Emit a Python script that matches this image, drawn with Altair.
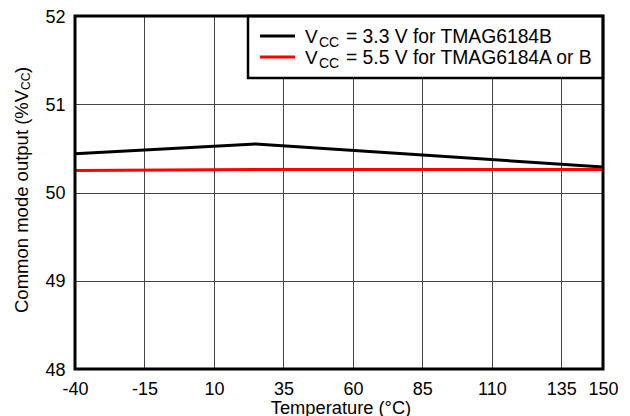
import altair as alt
import pandas as pd

# ---- data ----
temps = [-40, 25, 150]
vcc33_values = [50.44, 50.55, 50.29]
vcc55_values = [50.25, 50.26, 50.26]
series_names = ["VCC = 3.3 V for TMAG6184B", "VCC = 5.5 V for TMAG6184A or B"]
series_colors = ["#000000", "#ff0000"]
legend_main = ["V", "V"]
legend_sub = ["CC", "CC"]
legend_rest = ["= 3.3 V for TMAG6184B", "= 5.5 V for TMAG6184A or B"]
x_ticks = [-40, -15, 10, 35, 60, 85, 110, 135, 150]
y_ticks = [48, 49, 50, 51, 52]
x_title = "Temperature (°C)"
y_title_main = "Common mode output (%V"
y_title_sub = "CC"
y_title_end = ")"

W, H = 528, 353
FONT = "Liberation Sans"

df = pd.DataFrame({
    "temp": temps + temps,
    "value": vcc33_values + vcc55_values,
    "series": [series_names[0]] * len(temps) + [series_names[1]] * len(temps),
})

one = pd.DataFrame({"k": [0]})

x_enc = alt.X("temp:Q",
              scale=alt.Scale(domain=[-40, 150], nice=False, zero=False),
              axis=alt.Axis(values=x_ticks, title=None, labelPadding=11,
                            labelFlush=False, labelOverlap=False,
                            labelExpr="'' + datum.value"))
y_enc = alt.Y("value:Q",
              scale=alt.Scale(domain=[48, 52], nice=False, zero=False),
              axis=alt.Axis(values=y_ticks, title=None, labelPadding=10, labelOffset=1))

lines = alt.Chart(df).mark_line(strokeWidth=3).encode(
    x=x_enc, y=y_enc,
    color=alt.Color("series:N", scale=alt.Scale(domain=series_names, range=series_colors), legend=None),
)

frame = alt.Chart(one).mark_rect(fill="white", fillOpacity=0, stroke="black", strokeWidth=3).encode(
    x=alt.value(0), x2=alt.value(W), y=alt.value(0), y2=alt.value(H))

layers = [lines]

# custom legend
legend_box = alt.Chart(one).mark_rect(fill="white", stroke="black", strokeWidth=2.5).encode(
    x=alt.value(173), x2=alt.value(W), y=alt.value(0), y2=alt.value(62))
layers.append(legend_box)
row_base = [27, 48]
for i in range(2):
    yb = row_base[i]
    layers.append(alt.Chart(one).mark_rule(color=series_colors[i], strokeWidth=3).encode(
        x=alt.value(185), x2=alt.value(220), y=alt.value(yb - 7)))
    layers.append(alt.Chart(one).mark_text(font=FONT, fontSize=19, align="left", baseline="alphabetic", color="black").encode(
        x=alt.value(230), y=alt.value(yb), text=alt.value(legend_main[i])))
    layers.append(alt.Chart(one).mark_text(font=FONT, fontSize=14, align="left", baseline="alphabetic", color="black").encode(
        x=alt.value(244), y=alt.value(yb + 4), text=alt.value(legend_sub[i])))
    layers.append(alt.Chart(one).mark_text(font=FONT, fontSize=19.3, align="left", baseline="alphabetic", color="black").encode(
        x=alt.value(271), y=alt.value(yb), text=alt.value(legend_rest[i])))

# y title with subscript (rotated)
layers.append(alt.Chart(one).mark_text(font=FONT, fontSize=18.5, angle=270, align="left", baseline="alphabetic", color="black").encode(
    x=alt.value(-47), y=alt.value(297), text=alt.value(y_title_main)))
layers.append(alt.Chart(one).mark_text(font=FONT, fontSize=12, angle=270, align="left", baseline="alphabetic", color="black").encode(
    x=alt.value(-45.5), y=alt.value(74), text=alt.value(y_title_sub)))
layers.append(alt.Chart(one).mark_text(font=FONT, fontSize=18.5, angle=270, align="left", baseline="alphabetic", color="black").encode(
    x=alt.value(-47), y=alt.value(57), text=alt.value(y_title_end)))

# x title
layers.append(alt.Chart(one).mark_text(font=FONT, fontSize=18.3, align="center", baseline="alphabetic", color="black").encode(
    x=alt.value(W / 2 + 2), y=alt.value(397.5), text=alt.value(x_title)))

layers.append(frame)

chart = alt.layer(*layers).properties(
    width=W, height=H,
    padding={"left": 67, "top": 8, "right": 19, "bottom": 47},
    autosize=alt.AutoSizeParams(type="none"),
    background="white",
).configure_view(stroke=None).configure_axis(
    labelFont=FONT, labelFontSize=18, labelColor="black",
    grid=True, gridColor="#444444", gridWidth=1,
    domain=False, ticks=False, tickSize=0,
)

chart.save("out.html", embed_options={"renderer": "svg", "actions": False})
